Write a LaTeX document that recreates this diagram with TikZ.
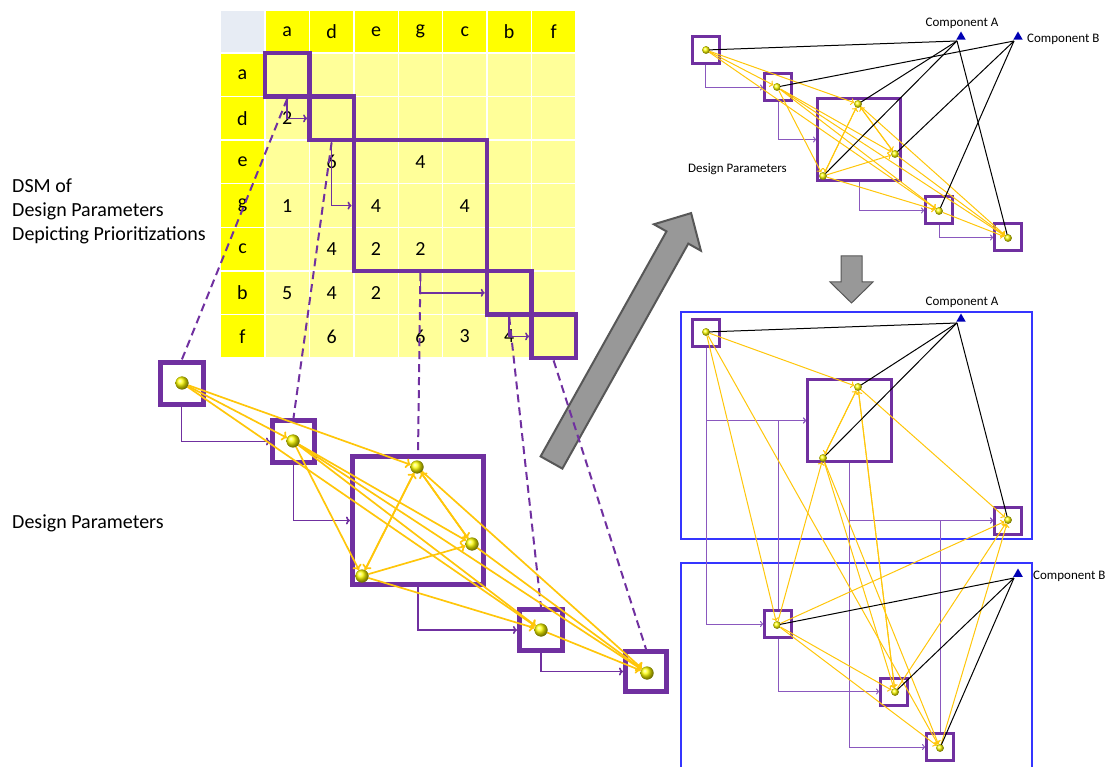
\documentclass[tikz,border=0pt]{standalone}
\usepackage{fontspec}
\setmainfont{Carlito}
\usetikzlibrary{arrows.meta,shapes.geometric}

\definecolor{dsmhead}{HTML}{FFFF00}
\definecolor{dsmbody}{HTML}{FFFF99}
\definecolor{dsmcornerfill}{HTML}{E7ECF4}
\definecolor{dp}{HTML}{7030A0}
\definecolor{dplight}{HTML}{8A58BE}
\definecolor{linkgold}{HTML}{FFC60A}
\definecolor{frameblue}{HTML}{3535FF}
\definecolor{compblue}{HTML}{0000B4}
\definecolor{arrowgray}{HTML}{989898}
\definecolor{arrowedge}{HTML}{575757}

\begin{document}
\begin{tikzpicture}[x=1pt,y=-1pt,
  dsmcell/.style={rectangle, draw=white, line width=1.4pt, inner sep=0pt,
    minimum width=44.4pt, minimum height=43.6pt, font=\fontsize{20}{20}\selectfont},
  dsmnum/.style={inner sep=0pt, font=\fontsize{20}{20}\selectfont},
  dsmgroup/.style={rectangle, draw=dp, line width=4.5pt, inner sep=0pt},
  seqL/.style={draw=dp, line width=1.6pt, -{To[length=4pt,width=8pt]}},
  seqR/.style={draw=dplight, line width=1pt, -{To[length=3pt,width=6pt]}},
  dsmdashed/.style={draw=dp, line width=2pt, dash pattern=on 8pt off 5pt},
  dpboxL/.style={rectangle, draw=dp, line width=5pt, inner sep=0pt},
  dpboxR/.style={rectangle, draw=dp, line width=3pt, inner sep=0pt, minimum size=27pt},
  dpballL/.style={circle, inner sep=0pt, minimum size=13pt, shading=ball, ball color=yellow},
  dpballR/.style={circle, inner sep=0pt, minimum size=7.5pt, shading=ball, ball color=yellow},
  linkL/.style={draw=linkgold, line width=1.7pt, -{To[length=5pt,width=10pt]}},
  linkR/.style={draw=linkgold, line width=1pt, -{To[length=3.5pt,width=7pt]}},
  compmark/.style={regular polygon, regular polygon sides=3, fill=compblue, inner sep=0pt, minimum size=11pt},
  compline/.style={draw=black, line width=1pt},
  compframe/.style={rectangle, draw=frameblue, line width=1.4pt, inner sep=0pt},
  blockarrow/.style={fill=arrowgray, draw=arrowedge, line join=miter},
  biglabel/.style={font=\fontsize{20}{24}\selectfont, inner sep=0pt},
  smalllabel/.style={font=\fontsize{13}{13}\selectfont, inner sep=0pt},
]
\useasboundingbox (0,0) rectangle (1112,767);

% ---------------- DSM table ----------------
\node[dsmcell, fill=dsmcornerfill, minimum width=45pt, minimum height=43pt] (corner) at (242.5,31.5) {};
\foreach [count=\i] \l in {a,d,e,g,c,b,f} {
  \node[dsmcell, fill=dsmhead, minimum height=43pt] (colhead-\i) at ({265+44.4*(\i-0.5)},31.5) {\l};
  \node[dsmcell, fill=dsmhead, minimum width=45pt] (rowhead-\i) at (242.5,{53+43.6*(\i-0.5)}) {\l};
  \foreach \j in {1,...,7}
    \node[dsmcell, fill=dsmbody] (cell-\i-\j) at ({265+44.4*(\j-0.5)},{53+43.6*(\i-0.5)}) {};
}
% dependency weights (row, column, value)
\foreach \r/\c/\v in {2/1/2, 3/2/6, 3/4/4, 4/1/1, 4/3/4, 4/5/4, 5/2/4, 5/3/2, 5/4/2,
                      6/1/5, 6/2/4, 6/3/2, 7/2/6, 7/4/6, 7/5/3, 7/6/4}
  \node[dsmnum] (val-\r-\c) at (cell-\r-\c) {\v};

% ---------------- block arrows ----------------
\draw[blockarrow, line width=2pt] (540.6,456.4) -- (666.5,231.4) -- (653.9,224.3) -- (691.1,213.1)
  -- (700.9,250.7) -- (688.3,243.6) -- (562.4,468.6) -- cycle;
\draw[blockarrow, line width=1pt] (841,256) -- (862,256) -- (862,282) -- (873,282) -- (851.5,303)
  -- (830,282) -- (841,282) -- cycle;

% ---------------- text ----------------
\node[biglabel, anchor=base west] (dsmtitle1) at (12,193) {DSM of};
\node[biglabel, anchor=base west] (dsmtitle2) at (12,217) {Design Parameters};
\node[biglabel, anchor=base west] (dsmtitle3) at (12,241) {Depicting Prioritizations};
\node[biglabel, anchor=base west] (dplabel) at (12,528) {Design Parameters};

% ---------------- lower-left design parameters ----------------
\node[dpboxL, minimum width=43pt, minimum height=42pt] (la-box) at (181.5,384) {};
\node[dpboxL, minimum size=42pt] (ld-box) at (293.5,441.5) {};
\node[dpboxL, minimum width=131pt, minimum height=128pt] (legc-box) at (418,520.5) {};
\node[dpboxL, minimum width=43pt, minimum height=41pt] (lb-box) at (541,630) {};
\node[dpboxL, minimum width=41pt, minimum height=40pt] (lf-box) at (646,671.5) {};

% DSM groups
\node[dsmgroup, minimum width=44.4pt, minimum height=43.6pt] (grp-a) at (287.2,74.8) {};
\node[dsmgroup, minimum width=44.4pt, minimum height=43.6pt] (grp-d) at (331.6,118.4) {};
\node[dsmgroup, minimum width=133.2pt, minimum height=130.8pt] (grp-egc) at (420.4,205.6) {};
\node[dsmgroup, minimum width=44.4pt, minimum height=43.6pt] (grp-b) at (509.2,292.8) {};
\node[dsmgroup, minimum width=44.4pt, minimum height=43.6pt] (grp-f) at (553.6,336.4) {};

% sequence inside the DSM
\draw[seqL] (grp-a.south) |- (grp-d.west);
\draw[seqL] (grp-d.south) |- (grp-egc.west);
\draw[seqL] (grp-egc.south) |- (grp-b.west);
\draw[seqL] (grp-b.south) |- (grp-f.west);

% DSM groups mapped onto the parameter boxes
\draw[dsmdashed] (grp-a.south) -- (la-box.north);
\draw[dsmdashed] (grp-d.south) -- (ld-box.north);
\draw[dsmdashed] (grp-egc.south) -- (legc-box.north);
\draw[dsmdashed] (grp-b.south) -- (lb-box.north);
\draw[dsmdashed] (grp-f.south) -- (lf-box.north);

% sequence between parameter boxes
\draw[seqL] (la-box.south) |- (ld-box.west);
\draw[seqL] (ld-box.south) |- (legc-box.west);
\draw[seqL] (legc-box.south) |- (lb-box.west);
\draw[seqL] (lb-box.south) |- (lf-box.west);

\node[dpballL] (la) at (182,383) {};
\node[dpballL] (ld) at (293,441) {};
\node[dpballL] (lg) at (417,467) {};
\node[dpballL] (lc) at (472,544) {};
\node[dpballL] (le) at (362,576) {};
\node[dpballL] (lb) at (541,630) {};
\node[dpballL] (lf) at (647,673) {};
\foreach \s/\t in {a/d,a/g,a/b,d/e,d/c,d/b,d/f,e/g,e/c,e/b,g/e,g/c,g/f,c/g,c/f,b/f}
  \draw[linkL] (l\s) -- (l\t);
\foreach \n in {a,d,g,c,e,b,f}
  \node[dpballL] at (l\n) {};

% ---------------- upper-right: parameters with components ----------------
\node[dpboxR] (ta-box) at (705.5,50.5) {};
\node[dpboxR] (td-box) at (778,87.5) {};
\node[dpboxR, minimum width=83pt, minimum height=82pt] (tegc-box) at (859,139.5) {};
\node[dpboxR] (tb-box) at (939,210.5) {};
\node[dpboxR] (tf-box) at (1008,237.5) {};
\draw[seqR] (ta-box.south) |- (td-box.west);
\draw[seqR] (td-box.south) |- (tegc-box.west);
\draw[seqR] (tegc-box.south) |- (tb-box.west);
\draw[seqR] (tb-box.south) |- (tf-box.west);

\node[dpballR] (ta) at (706,50) {};
\node[dpballR] (td) at (777,87) {};
\node[dpballR] (tg) at (858,104) {};
\node[dpballR] (tc) at (895,154) {};
\node[dpballR] (te) at (823,176) {};
\node[dpballR] (tb) at (939,211) {};
\node[dpballR] (tf) at (1008,238) {};
\foreach \s/\t in {a/d,a/g,a/b,d/e,d/c,d/b,d/f,e/g,e/c,e/b,g/e,g/c,g/f,c/g,c/f,b/f}
  \draw[linkR] (t\s) -- (t\t);

\coordinate (tA-foot) at (957,41);
\coordinate (tB-foot) at (1014,41);
\foreach \n in {a,g,e,f} \draw[compline] (tA-foot) -- (t\n.center);
\foreach \n in {d,c,b} \draw[compline] (tB-foot) -- (t\n.center);
\node[compmark] (tA) at (961,37) {};
\node[compmark] (tB) at (1018,37) {};
\foreach \n in {a,d,g,c,e,b,f}
  \node[dpballR] at (t\n) {};

\node[smalllabel, anchor=base] (tA-label) at (962,27) {Component A};
\node[smalllabel, anchor=base west] (tB-label) at (1027,43) {Component B};
\node[smalllabel, anchor=base west] (tdp-label) at (688,173) {Design Parameters};

% ---------------- lower-right: parameters grouped by component ----------------
\node[compframe, minimum width=351pt, minimum height=227pt] (frameA) at (856.5,425.5) {};
\node[compframe, minimum width=351pt, minimum height=210pt] (frameB) at (856.5,668) {};

\node[dpboxR] (ra-box) at (706,333) {};
\node[dpboxR, minimum width=84pt, minimum height=82pt] (reg-box) at (849.5,420.5) {};
\node[dpboxR] (rf-box) at (1008,520.5) {};
\node[dpboxR] (rd-box) at (778,624) {};
\node[dpboxR] (rc-box) at (894,691.5) {};
\node[dpboxR] (rb-box) at (940,747) {};

\draw[seqR] (ra-box.south) |- (rd-box.west);
\draw[seqR] (ra-box.south) |- (reg-box.west);
\draw[seqR] (rd-box.north) |- (reg-box.west);
\draw[seqR] (rd-box.south) |- (rc-box.west);
\draw[seqR] (reg-box.south) |- (rb-box.west);
\draw[seqR] (reg-box.south) |- (rf-box.west);
\draw[seqR] (rb-box.north) |- (rf-box.west);

\node[dpballR] (ra) at (706,332) {};
\node[dpballR] (rg) at (858,387) {};
\node[dpballR] (re) at (823,458) {};
\node[dpballR] (rf) at (1008,520) {};
\node[dpballR] (rd) at (777,625) {};
\node[dpballR] (rc) at (895,692) {};
\node[dpballR] (rb) at (940,748) {};
\foreach \s/\t in {a/d,a/g,a/b,d/e,d/c,d/b,d/f,e/g,e/c,e/b,g/e,g/c,g/f,c/g,c/f,b/f}
  \draw[linkR] (r\s) -- (r\t);

\coordinate (rA-foot) at (957,323);
\coordinate (rB-foot) at (1014,578);
\foreach \n in {a,g,e,f} \draw[compline] (rA-foot) -- (r\n.center);
\foreach \n in {d,c,b} \draw[compline] (rB-foot) -- (r\n.center);
\node[compmark] (rA) at (961,319) {};
\node[compmark] (rB) at (1018,574) {};
\foreach \n in {a,d,g,c,e,b,f}
  \node[dpballR] at (r\n) {};

\node[smalllabel, anchor=base] (rA-label) at (962,306) {Component A};
\node[smalllabel, anchor=base west] (rB-label) at (1033,579) {Component B};

\end{tikzpicture}
\end{document}
